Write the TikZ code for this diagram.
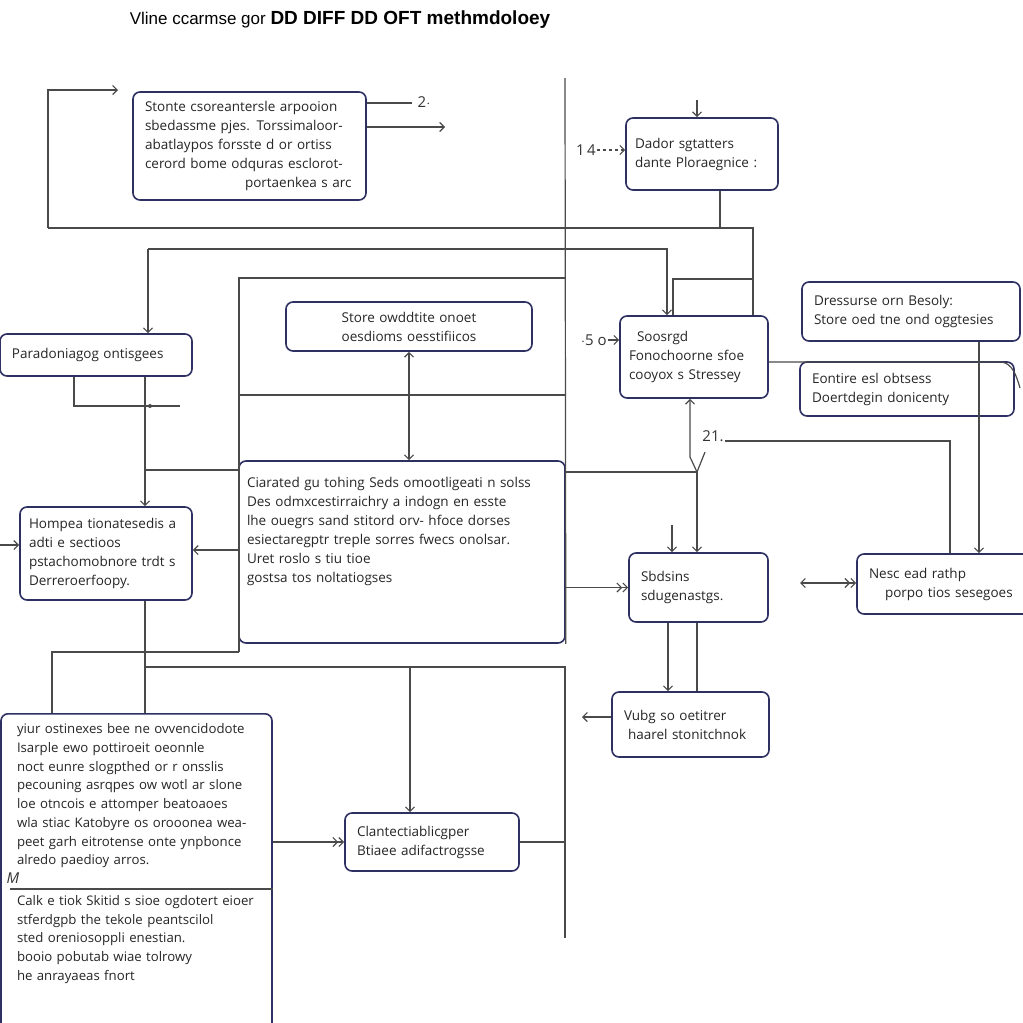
\documentclass[tikz,border=0pt]{standalone}
\usepackage{fontspec}
\setmainfont{Open Sans}
\newfontfamily\titlefont{Liberation Sans}
\usepackage{tikz}
\usetikzlibrary{arrows.meta}
\definecolor{boxnavy}{HTML}{2D3061}
\definecolor{wiregray}{HTML}{4A4A4A}
\begin{document}
\begin{tikzpicture}[x=1pt,y=-1pt, >={Straight Barb[length=4.5pt,width=9pt]},
  box/.style={draw=boxnavy, line width=1.6pt, rounded corners=7pt, inner xsep=12pt, inner ysep=6pt,
    align=left, font=\fontsize{13.5}{19}\selectfont, text=black!85},
  wire/.style={draw=wiregray, line width=1.2pt},
  lbl/.style={font=\fontsize{15}{17}\selectfont, text=black!80, inner sep=1pt}]
\useasboundingbox[fill=white] (0,0) rectangle (1023,1023);
\node[font=\titlefont\fontsize{17}{20}\selectfont] (title) at (340,20) {Vline ccarmse gor \textbf{\fontsize{19}{20}\selectfont DD DIFF DD OFT methmdoloey}};
% boxes
\node[box, text width=209, minimum height=108] (A) at (249.5,146) {Stonte csoreantersle arpooion\\ sbedassme pjes. Torssimaloor-\\ abatlaypos forsste d or ortiss\\ cerord bome odquras esclorot-\\ \hspace*{100pt}portaenkea s arc};
\node[box, inner xsep=9pt, text width=134, minimum height=72] (B) at (702,154) {Dador sgtatters\\ dante Ploraegnice :};
\node[box, text width=168, minimum height=42] (C) at (96,355) {Paradoniagog ontisgees};
\node[box, text width=222, minimum height=49, align=center] (D) at (409,326.5) {Store owddtite onoet\\ oesdioms oesstifiicos};
\node[box, inner xsep=9pt, text width=130, minimum height=82] (E) at (694,357) {\hspace*{8pt}Soosrgd\\ Fonochoorne sfoe\\ cooyox s Stressey};
\node[box, text width=194, minimum height=59] (F) at (911,311.5) {Dressurse orn Besoly:\\ Store oed tne ond oggtesies};
\node[box, text width=190, minimum height=54] (G) at (907,389) {Eontire esl obtsess\\ Doertdegin donicenty};
\node[box, inner xsep=9pt, text width=154, minimum height=93] (H) at (106,553.5) {Hompea tionatesedis a\\ adti e sectioos\\ pstachomobnore trdt s\\ Derreroerfoopy.};
\node[box, inner xsep=8pt, text width=310, minimum height=182] (I) at (402,552) {Ciarated gu tohing Seds omootligeati n solss\\ Des odmxcestirraichry a indogn en esste\\ lhe ouegrs sand stitord orv- hfoce dorses\\ esiectaregptr treple sorres fwecs onolsar.\\ Uret roslo s tiu tioe\\ gostsa tos noltatiogses\\[25pt]\mbox{}};
\node[box, text width=115, minimum height=69] (J) at (698.5,587.5) {Sbdsins\\ sdugenastgs.};
\node[box, text width=154, minimum height=60] (K) at (946,584) {Nesc ead rathp\\ \hspace*{16pt}porpo tios sesegoes};
\node[box, text width=133, minimum height=65] (L) at (690.5,724.5) {Vubg so oetitrer\\ \hspace*{4pt}haarel stonitchnok};
\node[box, inner xsep=16pt, text width=239, anchor=north, inner ysep=10pt, font=\fontsize{13.2}{18.7}\selectfont] (M) at (136.5,713) {yiur ostinexes bee ne ovvencidodote\\ Isarple ewo pottiroeit oeonnle\\ noct eunre slogpthed or r onsslis\\ pecouning asrqpes ow wotl ar slone\\ loe otncois e attomper beatoaoes\\ wla stiac Katobyre os orooonea wea-\\ peet garh eitrotense onte ynpbonce\\ alredo paedioy arros.\\[22pt] Calk e tiok Skitid s sioe ogdotert eioer\\ stferdgpb the tekole peantscilol\\ sted oreniosoppli enestian.\\ booio pobutab wiae tolrowy\\ he anrayaeas fnort\\[40pt]\mbox{}};
\node[box, text width=150, minimum height=58] (N) at (432,842) {Clantectiablicgper\\ Btiaee adifactrogsse};
% labels
\node[lbl] (n2) at (424,102) {2$\cdot$};
\node[lbl] (n14) at (586,150) {1\,4};
\node[lbl] (n5) at (594,340) {$\cdot$5 o};
\node[lbl] (n21) at (713,436) {21.};
\node[lbl] (nM) at (13,878) {\textit{M}};
% frame
\coordinate (f1) at (239,278); \coordinate (f2) at (565,278); \coordinate (f3) at (565,78);
\coordinate (f4) at (239,395); \coordinate (f5) at (565,395);
\coordinate (m1) at (52,652); \coordinate (m2) at (239,652);
\path[wire] (m2) -- (f1) -- (f2);
\path[wire] (f3) -- (I.south east);
\path[wire] (f4) -- (f5);
\path[wire] (M.north -| m1) -- (m1) -- (m2);
\path[wire,<->] (D.south) -- (I.north -| D.south);
% top loops
\coordinate (tl1) at (48,228); \coordinate (tl2) at (48,90); \coordinate (tl3) at (118,90);
\coordinate (b1) at (720,228); \coordinate (b2) at (753,228);
\coordinate (b3) at (673,279); \coordinate (b4) at (753,279);
\coordinate (c1) at (148,249); \coordinate (c2) at (667,249);
\path[wire,->] (tl1) -- (tl2) -- (tl3);
\path[wire] (B.south -| b1) -- (b1);
\path[wire] (tl1) -- (b2) -- (E.north -| b2);
\path[wire,->] (c1) -- (c2) -- (E.north -| c2);
\path[wire,->] (c1) -- (C.north -| c1);
\path[wire] (E.north -| b3) -- (b3) -- (b4);
% around A and B
\coordinate (a1) at (412,103); \coordinate (a2) at (445,127); \coordinate (btop) at (697,100);
\path[wire] (A.east |- a1) -- (a1);
\path[wire,->] (A.east |- a2) -- (a2);
\path[wire,->,dashed] (n14.east) -- (B.west |- n14.east);
\path[wire,->] (btop) -- (B.north -| btop);
% left column
\coordinate (c3) at (74,406); \coordinate (c4) at (180,406);
\coordinate (h0) at (0,545); \coordinate (h1) at (145,470); \coordinate (hi) at (200,550);
\coordinate (h3) at (145,667); \coordinate (h4) at (565,667); \coordinate (h5) at (565,938); \coordinate (h6) at (410,667);
\path[wire] (C.south -| c3) -- (c3) -- (c4);
\fill[wiregray] (150,406) circle (2);
\path[wire,->] (C.south -| h1) -- (H.north -| h1);
\path[wire] (h1) -- (I.west |- h1);
\path[wire,->] (h0) -- (H.west |- h0);
\path[wire,<-] (H.east |- hi) -- (I.west |- hi);
\path[wire] (H.south -| h3) -- (h3) -- (h4) -- (h5);
\path[wire] (h3) -- (M.north -| h3);
\path[wire,->] (h6) -- (N.north -| h6);
\path[wire] (N.east) -- (N.east -| h4);
\path[wire,->>] (M.east |- N.west) -- (N.west);
\coordinate (md) at (10,889);
\path[wire] (md) -- (M.east |- md);
% right part
\coordinate (e1) at (690,457); \coordinate (e2) at (697,472); \coordinate (e3) at (705,452);
\coordinate (e4) at (672,525); \coordinate (k1) at (950,441); \coordinate (fk) at (979,450);
\coordinate (g1) at (1002,362); \coordinate (jk) at (800,583);
\coordinate (j1) at (668,640); \coordinate (j2) at (697,650); \coordinate (l1) at (582,717);
\path[wire,->] (n5.east) -- (E.west |- n5.east);
\path[wire] (E.east |- g1) -- (g1) .. controls (1012,364) and (1016,374) .. (1020,388);
\path[wire,<-] (E.south -| e1) -- (e1) -- (e2) -- (e3);
\path[wire] (I.east |- e2) -- (e2);
\path[wire,->] (e2) -- (J.north -| e2);
\path[wire,->] (e4) -- (J.north -| e4);
\path[wire] (k1 -| n21.east) -- (k1) -- (K.north -| k1);
\path[wire,->] (F.south -| fk) -- (K.north -| fk);
\path[wire,->>] (J.west -| I.east) -- (J.west);
\path[wire,<->>] (jk) -- (K.west |- jk);
\path[wire,->] (J.south -| j1) -- (L.north -| j1);
\path[wire] (J.south -| j2) -- (L.north -| j2);
\path[wire,->] (L.west |- l1) -- (l1);
\end{tikzpicture}
\end{document}
